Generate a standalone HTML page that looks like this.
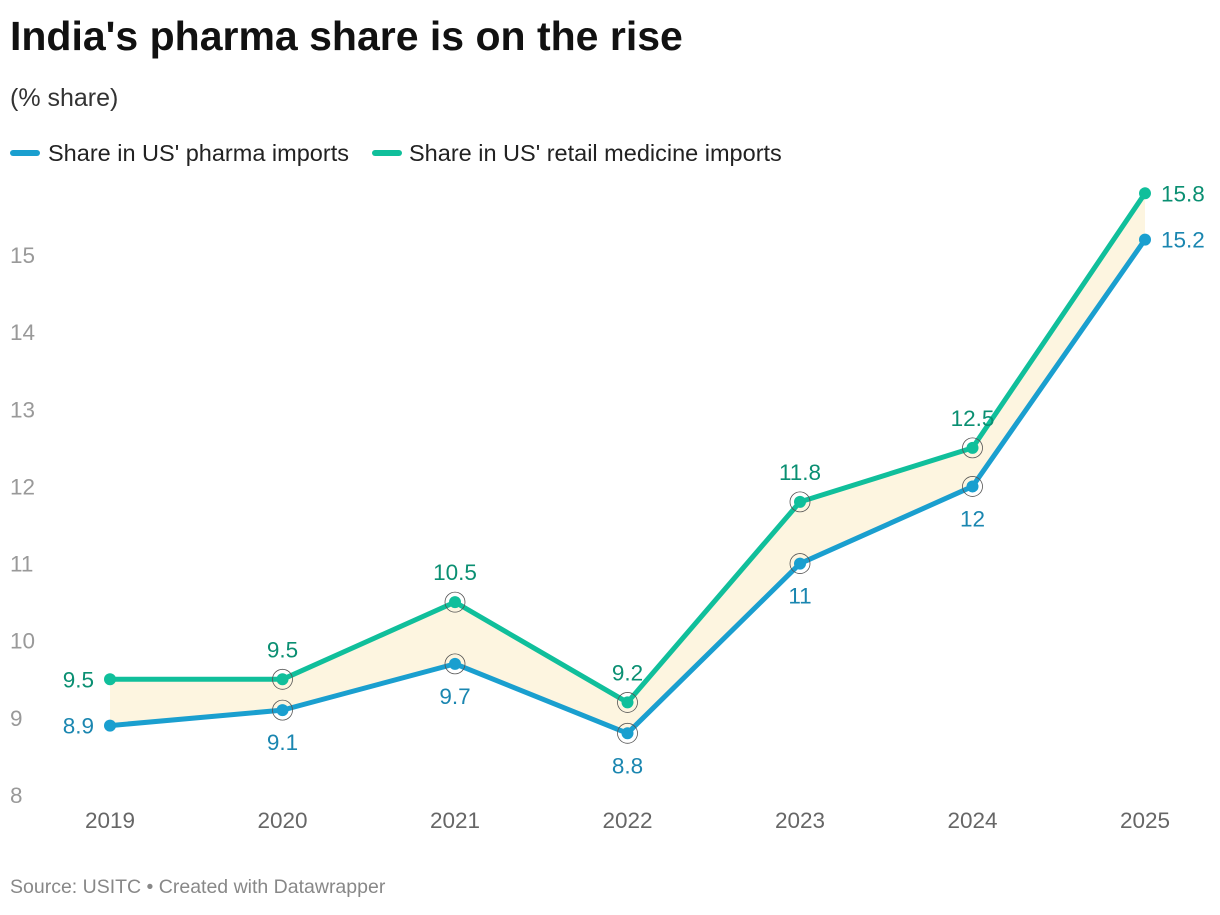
<!DOCTYPE html>
<html><head><meta charset="utf-8"><style>
body{margin:0;background:#fff;font-family:"Liberation Sans",Roboto,sans-serif;}
svg text{font-family:"Liberation Sans",sans-serif;}
</style></head><body>
<svg width="1220" height="910" xmlns="http://www.w3.org/2000/svg">
<text x="10" y="50" font-size="41" font-weight="bold" fill="#111">India's pharma share is on the rise</text>
<text x="10" y="106" font-size="25" fill="#333">(% share)</text>
<g>
<rect x="10" y="150" width="30" height="6" rx="3" fill="#1a9fcf"/>
<text x="48" y="161" font-size="23.5" fill="#222">Share in US' pharma imports</text>
<rect x="372" y="150" width="30" height="6" rx="3" fill="#10bf9b"/>
<text x="409" y="161" font-size="23.5" fill="#222">Share in US' retail medicine imports</text>
</g>
<g id="plot"></g>
<text x="10" y="893" font-size="19.5" fill="#888">Source: USITC • Created with Datawrapper</text>
</svg>
<script>
const years=["2019","2020","2021","2022","2023","2024","2025"];
const pharma=[8.9,9.1,9.7,8.8,11,12,15.2];
const retail=[9.5,9.5,10.5,9.2,11.8,12.5,15.8];
const yTicks=[8,9,10,11,12,13,14,15];
const NS="http://www.w3.org/2000/svg";
const g=document.getElementById('plot');
const x=i=>110+i*172.5;
const y=v=>795-(v-8)*77.14;
function mk(t,a){const e=document.createElementNS(NS,t);for(const k in a)e.setAttribute(k,a[k]);g.appendChild(e);return e;}
yTicks.forEach(v=>{const t=mk('text',{x:10,y:y(v)+8,'font-size':22.5,fill:'#999'});t.textContent=v;

});
years.forEach((yr,i)=>{const t=mk('text',{x:x(i),y:828,'font-size':22.5,fill:'#666','text-anchor':'middle'});t.textContent=yr;

});
let d=retail.map((v,i)=>(i?'L':'M')+x(i)+','+y(v)).join('');
for(let i=pharma.length-1;i>=0;i--)d+='L'+x(i)+','+y(pharma[i]);
const area=mk('path',{d:d+'Z',fill:'#fdf5e0'});


function series(vals,col,tcol,name,above){
const p=mk('path',{d:vals.map((v,i)=>(i?'L':'M')+x(i)+','+y(v)).join(''),fill:'none',stroke:col,'stroke-width':5,'stroke-linejoin':'round'});


vals.forEach((v,i)=>{
if(i>0&&i<vals.length-1){const r=mk('circle',{cx:x(i),cy:y(v),r:10,fill:'none',stroke:'#555','stroke-width':0.8});

}
const c=mk('circle',{cx:x(i),cy:y(v),r:6,fill:col});


let tx=x(i),ty=above?y(v)-22:y(v)+40,an='middle';
if(i===0){tx=x(i)-16;ty=y(v)+8;an='end';}
if(i===vals.length-1){tx=x(i)+16;ty=y(v)+8;an='start';}
const t=mk('text',{x:tx,y:ty,'font-size':22.5,fill:tcol,'text-anchor':an});t.textContent=v;

});}
series(pharma,'#1a9fcf','#1a86b0','pharma',false);
series(retail,'#10bf9b','#0a8f72','retail',true);
</script>
</body></html>
